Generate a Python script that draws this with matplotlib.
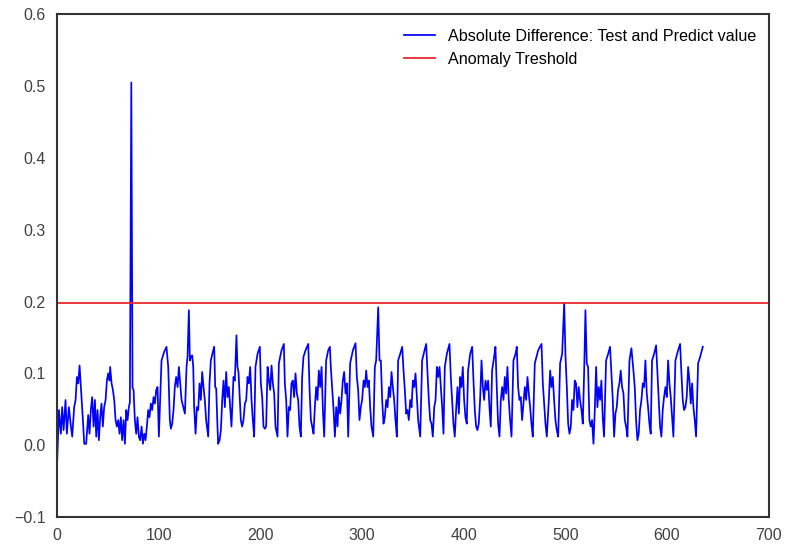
import numpy as np
import matplotlib
matplotlib.use("Agg")
import matplotlib.pyplot as plt

plt.rcParams['font.family'] = ['Liberation Sans', 'DejaVu Sans']

# absolute difference between test and predicted values (vertices)
x_a = [0, 2.0, 3.9, 5.2, 6.6, 8.5, 9.8, 11.8, 13.8, 15.1,
       17.0, 18.4, 19.7, 21.0, 22.3, 23.6, 24.3, 25.6, 26.9, 28.8,
       30.8, 32.1, 33.4, 34.7, 36.1, 37.4, 38.7, 40.0, 41.3, 42.6,
       43.9, 45.2, 46.5, 47.9, 49.2, 50.5, 51.8, 52.4, 53.8, 55.1,
       56.4, 57.7, 59.0, 60.3, 61.6, 62.9, 64.2, 65.6, 66.9, 68.2,
       69.5, 70.8, 71.8, 73.2, 74.4, 75.4, 76.7, 78.0, 79.3, 80.6,
       81.9, 83.3, 84.6, 85.9, 87.2, 88.5, 89.8, 91.1, 92.4, 93.7,
       95.1, 96.4, 97.7, 99.0, 100.3, 102.9, 105.5, 107.8, 109.5, 111.1,
       112.1, 113.4, 114.7, 116.0, 117.3, 118.7, 120.0, 121.3, 122.6]
y_a = [-0.035, 0.049, 0.016, 0.053, 0.021, 0.063, 0.016, 0.053, 0.026, 0.012,
       0.053, 0.063, 0.095, 0.086, 0.111, 0.081, 0.063, 0.035, 0.002, 0.002,
       0.042, 0.016, 0.049, 0.067, 0.026, 0.063, 0.012, 0.049, 0.007, 0.039,
       0.058, 0.026, 0.053, 0.063, 0.090, 0.100, 0.090, 0.109, 0.086, 0.077,
       0.063, 0.035, 0.026, 0.035, 0.016, 0.039, 0.007, 0.035, 0.002, 0.049,
       0.035, 0.053, 0.060, 0.505, 0.080, 0.077, 0.035, 0.016, 0.039, 0.012,
       0.007, 0.026, 0.002, 0.016, 0.007, 0.026, 0.049, 0.039, 0.058, 0.049,
       0.067, 0.058, 0.077, 0.081, 0.012, 0.118, 0.130, 0.137, 0.109, 0.035,
       0.023, 0.030, 0.049, 0.081, 0.095, 0.081, 0.109, 0.086, 0.063]

x_b = [125.9, 127.5, 128.5, 129.8, 130.8, 131.8, 133.1, 134.1, 135.0, 136.4,
       137.7, 139.0, 140.3, 141.6, 142.9, 144.2, 145.5, 146.8, 148.8, 150.1,
       151.4, 153.4, 154.7, 155.7, 156.7, 157.7, 158.6, 160.0, 161.3, 162.6,
       163.9, 165.2, 166.5, 167.8, 169.1, 170.4, 171.7, 173.7, 175.0, 176.6,
       177.6, 178.6, 179.9, 180.9, 182.2, 183.5, 184.9, 186.2, 187.5, 188.8,
       190.1, 191.4, 192.7, 194.0, 195.3, 197.3, 199.6, 200.6, 201.9, 203.2,
       204.5, 205.8, 207.2, 208.5, 209.8, 211.1, 212.4, 213.7, 215.0, 217.0,
       218.3, 220.9, 223.2, 224.2, 225.5, 226.8, 228.1, 229.4, 230.7, 232.0,
       233.3, 234.7, 236.0, 237.3, 238.6, 239.9, 241.2, 242.5, 244.5, 247.2,
       248.5, 249.8, 251.1, 252.4]
y_b = [0.044, 0.109, 0.123, 0.188, 0.118, 0.123, 0.125, 0.109, 0.053, 0.016,
       0.053, 0.049, 0.086, 0.063, 0.102, 0.081, 0.063, 0.035, 0.012, 0.086,
       0.118, 0.130, 0.137, 0.081, 0.079, 0.035, 0.002, 0.007, 0.021, 0.063,
       0.090, 0.053, 0.102, 0.067, 0.081, 0.053, 0.026, 0.095, 0.090, 0.153,
       0.109, 0.102, 0.063, 0.035, 0.026, 0.035, 0.058, 0.063, 0.095, 0.086,
       0.109, 0.063, 0.035, 0.012, 0.109, 0.127, 0.137, 0.086, 0.067, 0.026,
       0.023, 0.026, 0.109, 0.090, 0.077, 0.111, 0.086, 0.072, 0.026, 0.012,
       0.114, 0.132, 0.141, 0.086, 0.063, 0.012, 0.053, 0.049, 0.086, 0.090,
       0.067, 0.100, 0.072, 0.063, 0.026, 0.012, 0.095, 0.123, 0.132, 0.141,
       0.077, 0.035, 0.026, 0.016]

x_c = [253.7, 255.0, 256.3, 257.6, 258.9, 260.3, 261.6, 262.9, 264.8, 266.8,
       268.5, 269.4, 270.7, 272.1, 273.4, 274.7, 276.0, 277.3, 278.6, 279.9,
       281.2, 282.5, 283.9, 285.2, 286.5, 288.4, 291.1, 293.7, 295.0, 296.3,
       297.6, 298.9, 300.2, 301.6, 302.9, 304.2, 305.5, 306.8, 308.1, 309.4,
       311.1, 312.7, 314.0, 316.0, 317.3, 318.6, 319.9, 321.2, 322.5, 323.9,
       325.2, 326.5, 327.8, 329.1, 330.4, 331.7, 333.0, 334.3, 335.6, 337.6,
       339.6, 340.9, 342.2, 343.5, 344.8, 346.1, 347.5, 348.8, 350.1, 351.4,
       352.7, 354.0, 355.3, 357.3, 359.2, 361.2, 363.2, 364.5, 365.8, 367.1,
       368.4, 369.7, 371.1, 372.4, 373.7, 375.0, 376.3, 377.6, 378.9, 380.2]
y_c = [0.053, 0.081, 0.063, 0.104, 0.081, 0.109, 0.049, 0.012, 0.118, 0.132,
       0.137, 0.109, 0.081, 0.049, 0.012, 0.053, 0.026, 0.067, 0.044, 0.063,
       0.090, 0.102, 0.072, 0.086, 0.012, 0.114, 0.132, 0.142, 0.095, 0.077,
       0.035, 0.053, 0.063, 0.090, 0.081, 0.104, 0.081, 0.090, 0.053, 0.026,
       0.012, 0.109, 0.118, 0.192, 0.118, 0.118, 0.063, 0.030, 0.039, 0.063,
       0.053, 0.081, 0.067, 0.102, 0.081, 0.063, 0.035, 0.012, 0.118, 0.127,
       0.137, 0.104, 0.077, 0.044, 0.049, 0.035, 0.063, 0.053, 0.090, 0.081,
       0.100, 0.067, 0.035, 0.012, 0.118, 0.130, 0.141, 0.100, 0.063, 0.035,
       0.030, 0.012, 0.053, 0.063, 0.109, 0.095, 0.109, 0.081, 0.053, 0.016]

x_d = [381.5, 383.5, 386.1, 387.4, 388.7, 390.0, 391.3, 392.6, 394.0, 395.3,
       396.6, 397.9, 399.2, 400.5, 401.8, 403.1, 404.4, 406.4, 408.4, 409.7,
       411.0, 412.3, 413.6, 414.9, 416.2, 417.6, 418.9, 420.2, 421.5, 422.8,
       424.1, 425.4, 426.7, 428.0, 430.0, 431.3, 432.6, 433.9, 435.3, 436.6,
       437.9, 439.2, 440.5, 441.8, 443.1, 444.4, 445.7, 447.1, 449.0, 451.0,
       452.3, 453.6, 454.9, 456.2, 457.5, 458.9, 460.2, 461.5, 462.8, 464.1,
       465.4, 466.7, 468.0, 470.0, 473.3, 476.6, 477.9, 479.2, 480.5, 481.8,
       483.8, 485.1, 486.4, 487.7, 489.0, 490.3, 491.6, 493.0, 494.9, 496.9,
       498.9, 500.2, 501.5, 502.8, 504.1, 505.4, 506.7, 508.0]
y_d = [0.109, 0.127, 0.141, 0.095, 0.063, 0.030, 0.012, 0.049, 0.081, 0.044,
       0.095, 0.081, 0.109, 0.063, 0.039, 0.030, 0.104, 0.127, 0.137, 0.090,
       0.049, 0.026, 0.021, 0.030, 0.063, 0.118, 0.081, 0.063, 0.090, 0.077,
       0.090, 0.053, 0.026, 0.104, 0.123, 0.137, 0.081, 0.030, 0.012, 0.063,
       0.081, 0.063, 0.095, 0.072, 0.109, 0.063, 0.035, 0.012, 0.118, 0.127,
       0.137, 0.081, 0.063, 0.067, 0.035, 0.058, 0.081, 0.063, 0.095, 0.072,
       0.053, 0.030, 0.012, 0.114, 0.132, 0.141, 0.086, 0.058, 0.030, 0.012,
       0.063, 0.104, 0.081, 0.095, 0.063, 0.035, 0.021, 0.012, 0.114, 0.127,
       0.198, 0.123, 0.081, 0.030, 0.016, 0.026, 0.063, 0.049]

x_e = [509.3, 510.6, 511.9, 513.2, 514.5, 515.9, 517.2, 518.5, 519.8, 521.1,
       522.4, 523.7, 525.0, 526.3, 527.7, 529.0, 530.3, 531.6, 532.9, 534.2,
       535.5, 536.8, 538.1, 540.1, 542.1, 544.0, 545.4, 546.7, 548.0, 549.3,
       550.6, 551.9, 553.2, 554.5, 555.8, 557.2, 558.5, 559.8, 561.1, 563.1,
       565.0, 567.0, 568.3, 569.6, 570.9, 572.2, 573.5, 574.9, 576.2, 577.5,
       578.8, 580.1, 581.4, 582.7, 584.0, 585.3, 587.3, 589.3, 590.6, 591.9,
       593.2, 594.5, 595.8, 597.1, 598.5, 599.8, 601.1, 602.4, 603.7, 605.0,
       606.3, 608.3, 610.9, 612.9, 614.2, 615.5, 616.8, 618.1, 619.4, 620.8,
       622.1, 623.4, 624.7, 626.0, 627.3, 628.6, 630.6, 632.6, 635.2]
y_e = [0.090, 0.086, 0.053, 0.081, 0.063, 0.049, 0.030, 0.100, 0.188, 0.114,
       0.109, 0.035, 0.026, 0.035, 0.002, 0.049, 0.109, 0.053, 0.081, 0.063,
       0.090, 0.039, 0.012, 0.118, 0.127, 0.137, 0.100, 0.063, 0.012, 0.044,
       0.053, 0.077, 0.086, 0.104, 0.081, 0.072, 0.035, 0.026, 0.012, 0.118,
       0.135, 0.104, 0.081, 0.035, 0.007, 0.016, 0.049, 0.063, 0.086, 0.081,
       0.118, 0.072, 0.053, 0.030, 0.016, 0.118, 0.127, 0.139, 0.100, 0.063,
       0.026, 0.012, 0.049, 0.067, 0.081, 0.067, 0.118, 0.086, 0.067, 0.039,
       0.012, 0.118, 0.132, 0.141, 0.100, 0.063, 0.049, 0.053, 0.067, 0.109,
       0.090, 0.058, 0.086, 0.053, 0.035, 0.012, 0.114, 0.123, 0.137]

threshold = 0.198

x = np.array(x_a + x_b + x_c + x_d + x_e)
y = np.array(y_a + y_b + y_c + y_d + y_e)

fig = plt.figure(figsize=(7.9, 5.46), dpi=100)
ax = fig.add_axes([0.072, 0.053, 0.901, 0.921])

ax.plot(x, y, color='#0000ff', lw=1.25, label='Absolute Difference: Test and Predict value')
ax.axhline(threshold, color='#e8282d', lw=1.3, label='Anomaly Treshold')

ax.set_xlim(0, 700)
ax.set_ylim(-0.1, 0.6)
ax.set_xticks(np.arange(0, 701, 100))
ax.set_yticks(np.arange(-0.1, 0.61, 0.1))
ax.yaxis.set_major_formatter(matplotlib.ticker.FuncFormatter(
    lambda v, p: ('%.1f' % v).replace('-', '\u2212')))
ax.tick_params(length=0, labelsize=11.5, labelcolor='#404040', pad=8)
for s in ax.spines.values():
    s.set_color('#333333')
    s.set_linewidth(1.5)

ax.legend(loc='upper right', frameon=False, fontsize=11.6, handlelength=1.95,
          borderaxespad=0.35, bbox_to_anchor=(1.0, 0.995))

fig.savefig('out.png', dpi=100)
